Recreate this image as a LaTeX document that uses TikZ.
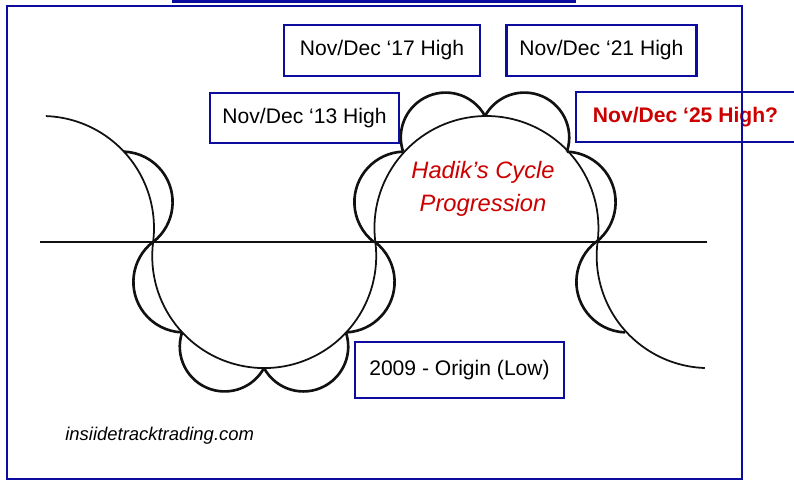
\documentclass[tikz,border=0pt]{standalone}
\usepackage{fontspec}
\setmainfont{Liberation Sans}
\usetikzlibrary{positioning}
\definecolor{frameblue}{HTML}{0C0C9E}
\definecolor{cyclered}{HTML}{CC0000}
\definecolor{curveink}{HTML}{111111}
\tikzset{
  hbox/.style={draw=frameblue, fill=white, line width=1.4pt, inner sep=0pt,
    minimum height=1.0cm, font=\fontsize{12}{14}\selectfont, text=black},
  qbox/.style={hbox, font=\fontsize{12}{14}\selectfont\bfseries, text=cyclered},
  cyc/.style={draw=curveink, line width=1.0pt},
  lobe/.style={draw=curveink, line width=1.5pt},
  axisline/.style={draw=curveink, line width=0.8pt}
}

\begin{document}
\begin{tikzpicture}[x=0.02cm, y=0.02cm]
\useasboundingbox (0,0) rectangle (794,-481);
\clip (0,0) rectangle (794,-481);
\fill[white] (0,0) rectangle (794,-481);
% box cut off by the top edge
\draw[frameblue, line width=1.4pt] (173,-1.6) rectangle (575,40);
\node[qbox, minimum width=4.38cm] (h25) at (685.5,-117) {Nov/Dec ‘25 High?};
\draw[frameblue, line width=1.4pt] (7,-6) rectangle (742,-479);

% axis and the chain of big arcs
\draw[axisline] (40,-242) -- (707,-242);
\draw[cyc] (42,-228) ++(88:112) arc[start angle=88, end angle=-7.2, radius=112]
  arc[start angle=172.8, end angle=367.2, radius=112]
  arc[start angle=187.2, end angle=-7.2, radius=112]
  arc[start angle=172.8, end angle=268, radius=112];

% small lobes on the big arcs
\foreach \cx/\cy/\a/\b/\al in {42/-228/-7.2/43/70,
    264/-256/172.8/223/70, 264/-256/223/270/85, 264/-256/270/317/85, 264/-256/317/367.2/70,
    485/-228/-7.2/43/70, 485/-228/43/90/85, 485/-228/90/137/85, 485/-228/137/187.2/70,
    707/-256/172.8/223/70}{
  \pgfmathsetmacro\ph{(\a+\b)/2}
  \pgfmathsetmacro\hd{abs(\b-\a)/2}
  \pgfmathsetmacro\rl{112*sin(\hd)/sin(\al)}
  \pgfmathsetmacro\dd{112*cos(\hd)-112*sin(\hd)/tan(\al)}
  \draw[lobe] (\cx,\cy) ++(\ph:\dd) ++(\ph-\al:\rl)
    arc[start angle=\ph-\al, end angle=\ph+\al, radius=\rl];
}

\node[hbox, minimum width=3.92cm, minimum height=1.02cm] (h17) at (382,-50.5) {Nov/Dec ‘17 High};
\node[hbox, minimum width=3.8cm, minimum height=1.02cm, right=0.48cm of h17] (h21) {Nov/Dec ‘21 High};
\node[hbox, minimum width=3.78cm] (h13) at (304.5,-118) {Nov/Dec ‘13 High};
\node[hbox, minimum width=4.18cm, minimum height=1.12cm] (low09) at (459.5,-370) {2009 - Origin (Low)};

\node[align=center, text=cyclered, font=\fontsize{13.5}{18.8}\selectfont\itshape] (title) at (483,-188.5) {Hadik’s Cycle\\Progression};
\node[anchor=west, inner sep=0pt, font=\fontsize{10.5}{12}\selectfont\itshape] (site) at (65,-436) {insiidetracktrading.com};
\end{tikzpicture}
\end{document}
